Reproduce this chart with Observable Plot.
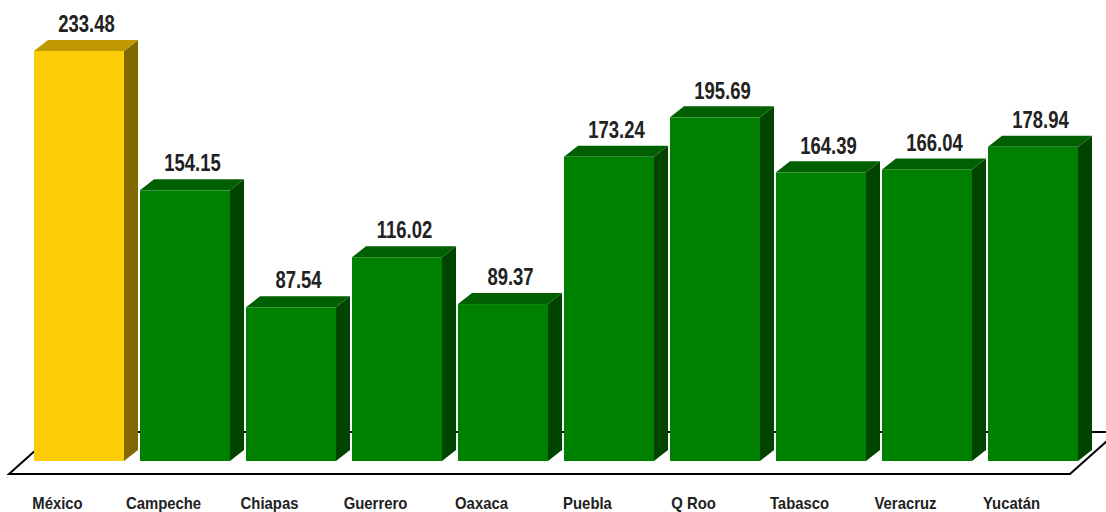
<!DOCTYPE html>
<html>
<head>
<meta charset="utf-8">
<script src="https://cdn.jsdelivr.net/npm/d3@7"></script>
<script src="https://cdn.jsdelivr.net/npm/@observablehq/plot@0.6"></script>
<style>
  html, body { margin: 0; padding: 0; background: #fff; }
  svg { display: block; }
</style>
</head>
<body>
<div id="chart"></div>
<script>
const categories = ["México", "Campeche", "Chiapas", "Guerrero", "Oaxaca", "Puebla", "Q Roo", "Tabasco", "Veracruz", "Yucatán"];
const values = [233.48, 154.15, 87.54, 116.02, 89.37, 173.24, 195.69, 164.39, 166.04, 178.94];
const highlight = "México";

const data = categories.map((c, i) => ({cat: c, value: values[i]}));

const palette = {
  yellow: {front: "#FDCD07", side: "#816800", top: "#C09A00"},
  green: {front: "#008000", side: "#004400", top: "#005F00"}
};
const col = d => d.cat === highlight ? palette.yellow : palette.green;

const DX = 14, DY = 11;          // bar depth offset (px)
const FLOOR = {front: 13, back: 29, slant: 47};
const FONT = "'Liberation Sans', Arial, sans-serif";

function floorMark(index, scales) {
  const {x, y} = scales;
  const [r0, r1] = x.range();
  const y0 = y(0);
  const yf = y0 + FLOOR.front, yb = y0 - FLOOR.back;
  const s = FLOOR.slant;
  const g = d3.create("svg:g");
  g.append("polygon")
    .attr("points", [[r0 - 17, yf], [r1 - 16, yf], [r1 - 16 + s, yb], [r0 - 17 + s, yb]].join(" "))
    .attr("fill", "#fff").attr("stroke", "#000").attr("stroke-width", 2);
  return g.node();
}

function sidesMark(index, scales) {
  const {x, y} = scales;
  const bw = x.bandwidth();
  const g = d3.create("svg:g");
  for (const d of data) {
    const x0 = x(d.cat), x1 = x0 + bw, y0 = y(0), yt = y(d.value);
    const c = col(d);
    g.append("polygon")
      .attr("points", [[x1, yt], [x1 + DX, yt - DY], [x1 + DX, y0 - DY], [x1, y0]].join(" "))
      .attr("fill", c.side);
    g.append("polygon")
      .attr("points", [[x0, yt], [x0 + DX, yt - DY], [x1 + DX, yt - DY], [x1, yt]].join(" "))
      .attr("fill", c.top);
  }
  return g.node();
}

const plot = Plot.plot({
  width: 1106,
  height: 512,
  margin: 0,
  x: {type: "band", domain: categories, range: [26, 1086], paddingInner: 0.151, paddingOuter: 0.0755, axis: null},
  y: {domain: [0, 250], range: [461, 461 - 250 * (410 / 233.48)], axis: null},
  marks: [
    floorMark,
    sidesMark,
    Plot.barY(data, {x: "cat", y: "value", fill: d => col(d).front, inset: 0}),
    Plot.text(data, {
      x: "cat", y: "value", text: d => d.value.toFixed(2),
      dx: DX / 2, dy: -DY - 16,
      fontSize: 24, fontWeight: "bold", fontFamily: FONT, fill: "#222",
      className: "vlabel"
    }),
    Plot.text(data, {
      x: "cat", y: () => 0, text: "cat",
      dx: -22, dy: 42,
      fontSize: 16, fontWeight: "bold", fontFamily: FONT, fill: "#222",
      className: "clabel"
    })
  ]
});
// condensed lettering like the original (Arial Narrow-like)
function condense(sel, s) {
  plot.querySelectorAll(sel + " text").forEach(t => {
    const tr = t.getAttribute("transform") || "";
    t.setAttribute("transform", tr + ` scale(${s},1)`);
  });
}
condense(".vlabel", 0.77);
condense(".clabel", 0.93);
document.getElementById("chart").appendChild(plot);
</script>
</body>
</html>
